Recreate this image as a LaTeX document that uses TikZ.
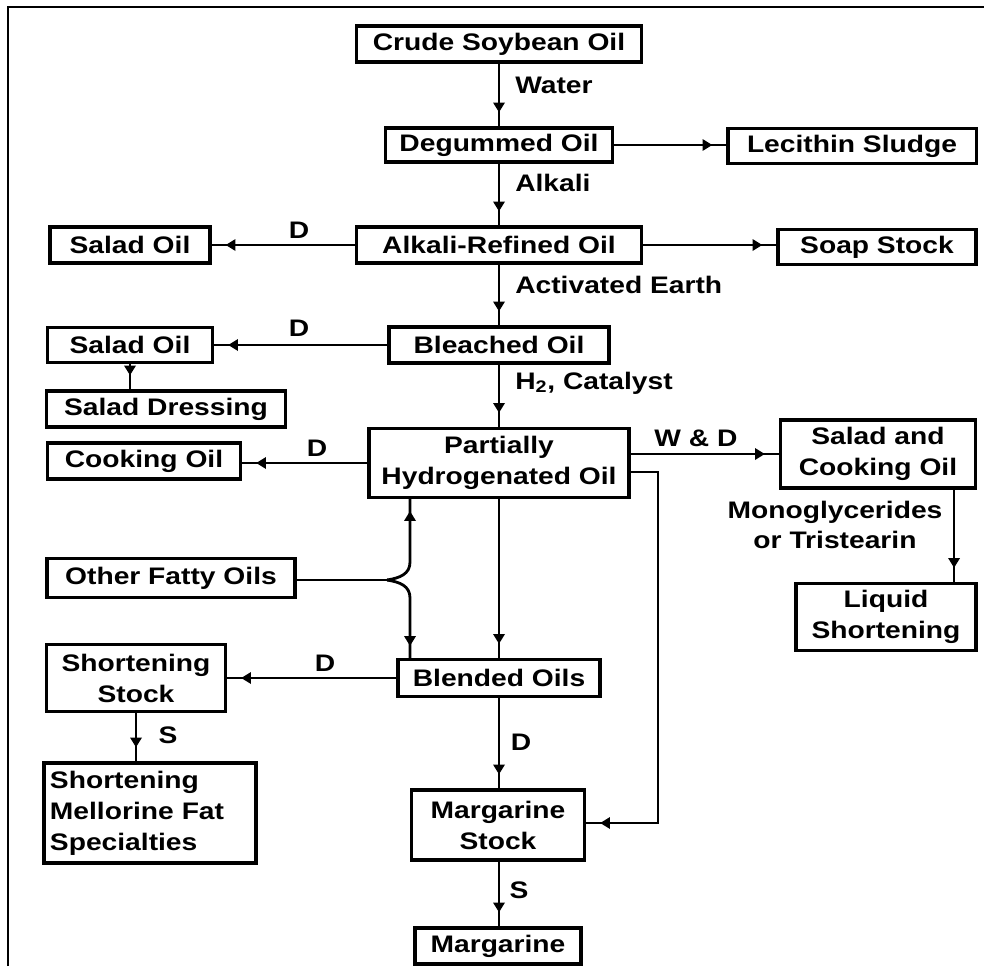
\documentclass[tikz,border=0pt]{standalone}
\usepackage{fontspec}
\setmainfont{Liberation Sans}[FakeStretch=1.18]
\usetikzlibrary{arrows.meta,decorations.markings}
\tikzset{
  box/.style={draw, line width=2.2pt, inner sep=0pt, align=center,
    font=\fontsize{17}{22}\selectfont\bfseries},
  lbl/.style={inner sep=0pt, font=\fontsize{17}{22}\selectfont\bfseries},
  conn/.style={line width=2pt},
  flow/.style={line width=2pt, postaction={decorate},
    decoration={markings, mark=at position -10pt with {\arrow{Triangle[width=8pt,length=7pt]}}}},
}
\begin{document}
\begin{tikzpicture}[x=0.025cm,y=-0.025cm]
\useasboundingbox (0,0) rectangle (984,966);
\draw[line width=2pt] (8,966) -- (8,7) -- (984,7);

% boxes
\node[box, minimum width=7.125cm, minimum height=0.9cm] (crude) at (499,44) {Crude Soybean Oil};
\node[box, minimum width=5.675cm, minimum height=0.85cm] (degum) at (499,145) {Degummed Oil};
\node[box, minimum width=6.2cm, minimum height=0.875cm] (lecithin) at (852,146) {Lecithin Sludge};
\node[box, minimum width=7.125cm, minimum height=0.9cm] (alkref) at (499,245) {Alkali-Refined Oil};
\node[box, minimum width=4.0cm, minimum height=0.9cm] (salad1) at (130,245) {Salad Oil};
\node[box, minimum width=4.95cm, minimum height=0.875cm] (soap) at (877,247) {Soap Stock};
\node[box, minimum width=5.5cm, minimum height=0.9cm] (bleached) at (499,345) {Bleached Oil};
\node[box, minimum width=4.125cm, minimum height=0.875cm] (salad2) at (130,345) {Salad Oil};
\node[box, minimum width=5.975cm, minimum height=0.9cm] (dressing) at (166,409) {Salad Dressing};
\node[box, minimum width=6.5cm, minimum height=1.725cm] (pho) at (499,463) {Partially\\Hydrogenated Oil};
\node[box, minimum width=4.825cm, minimum height=0.9cm] (cooking) at (144,461) {Cooking Oil};
\node[box, minimum width=4.875cm, minimum height=1.7cm] (sco) at (878,454) {Salad and\\Cooking Oil};
\node[box, minimum width=4.5cm, minimum height=1.675cm] (liquid) at (886,617) {Liquid\\Shortening};
\node[box, minimum width=6.2cm, minimum height=0.975cm] (other) at (171,578) {Other Fatty Oils};
\node[box, minimum width=4.475cm, minimum height=1.675cm] (shortstock) at (136,678) {Shortening\\Stock};
\node[box, minimum width=5.05cm, minimum height=0.925cm] (blended) at (499,678) {Blended Oils};
\node[box, minimum width=5.3cm, minimum height=2.5cm, align=left, text width=5.0cm] (smfs) at (150,813) {Shortening\\Mellorine Fat\\Specialties};
\node[box, minimum width=4.325cm, minimum height=1.75cm] (margstock) at (498,825) {Margarine\\Stock};
\node[box, minimum width=4.15cm, minimum height=0.9cm] (margarine) at (498,946) {Margarine};

% labels
\node[lbl, anchor=west] (lwater) at (515,85) {Water};
\node[lbl, anchor=west] (lalkali) at (515,183) {Alkali};
\node[lbl, anchor=west] (learth) at (515,285) {Activated Earth};
\node[lbl, anchor=west] (lcat) at (515,383) {H\textsubscript{2}, Catalyst};
\node[lbl] (ld1) at (299,230) {D};
\node[lbl] (ld2) at (299,328) {D};
\node[lbl] (ld3) at (317,448) {D};
\node[lbl] (lwd) at (696,438) {W \& D};
\node[lbl, align=center, font=\fontsize{17}{21.5}\selectfont\bfseries] (lmono) at (835,525) {Monoglycerides\\or Tristearin};
\node[lbl] (ld4) at (325,663) {D};
\node[lbl] (ls1) at (168,735) {S};
\node[lbl] (ld5) at (521,742) {D};
\node[lbl] (ls2) at (519,890) {S};

% main column
\draw[flow] (crude.south) -- (crude.south |- degum.north);
\draw[flow] (degum.south) -- (degum.south |- alkref.north);
\draw[flow] (alkref.south) -- (alkref.south |- bleached.north);
\draw[flow] (bleached.south) -- (bleached.south |- pho.north);
\draw[flow] (pho.south) -- (pho.south |- blended.north);
\draw[flow] (blended.south) -- (blended.south |- margstock.north);
\draw[flow] (blended.south |- margstock.south) -- (blended.south |- margarine.north);

% side branches
\draw[flow] (degum.east) -- (degum.east -| lecithin.west);
\draw[flow] (alkref.west) -- (alkref.west -| salad1.east);
\draw[flow] (alkref.east) -- (alkref.east -| soap.west);
\draw[flow] (bleached.west) -- (bleached.west -| salad2.east);
\draw[flow] (salad2.south) -- (salad2.south |- dressing.north);
\draw[flow] (pho.west) -- (pho.west -| cooking.east);
\draw[flow] (pho.east |- sco.west) -- (sco.west);
\coordinate (sc1) at ([xshift=-0.575cm]sco.south east);
\draw[flow] (sc1) -- (sc1 |- liquid.north);
\draw[flow] (blended.west) -- (blended.west -| shortstock.east);
\draw[flow] (shortstock.south) -- (shortstock.south |- smfs.north);

% other fatty oils brace
\coordinate (bp) at (387,580);
\draw[conn] (other.east |- bp) -- (bp);
\draw[flow] (bp) .. controls (400,578) and (410,574) .. (410,562) -- (410,497);
\draw[flow] (bp) .. controls (400,582) and (410,586) .. (410,598) -- (410,660);

% PHO to margarine stock
\coordinate (r1) at (658,472);
\coordinate (r2) at (658,823);
\draw[flow] (r1 -| pho.east) -- (r1) -- (r2) -- (r2 -| margstock.east);
\end{tikzpicture}
\end{document}
